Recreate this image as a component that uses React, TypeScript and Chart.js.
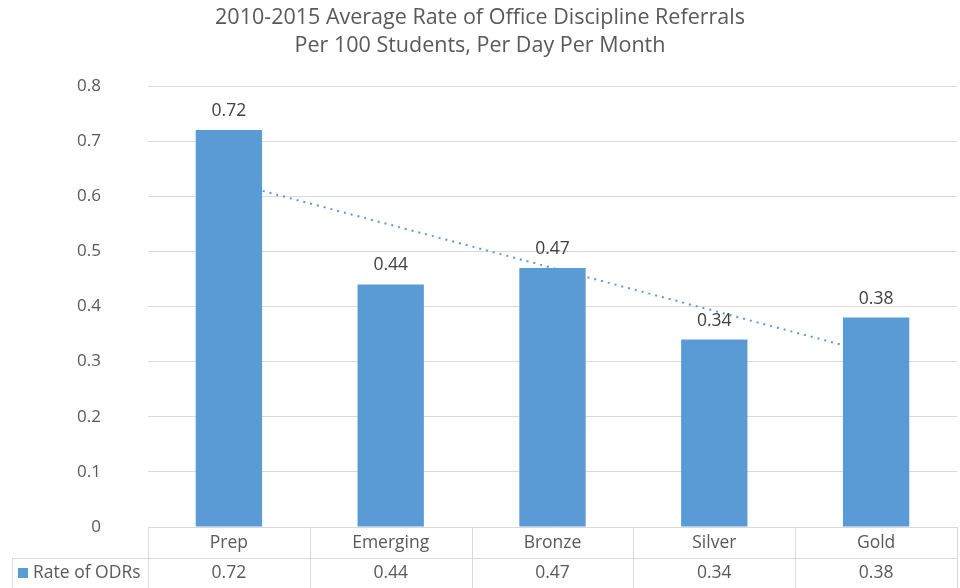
import React, { useEffect, useRef } from "react";
import { Chart, registerables } from "chart.js";

Chart.register(...registerables);

const categories = ["Prep", "Emerging", "Bronze", "Silver", "Gold"];
const rateValues = [0.72, 0.44, 0.47, 0.34, 0.38];
const trendValues = [0.626, 0.548, 0.47, 0.392, 0.314];
const seriesName = "Rate of ODRs";
const titleLines = [
  "2010-2015 Average Rate of Office Discipline Referrals",
  "Per 100 Students, Per Day Per Month",
];

const FONT = "'Open Sans', Lato, sans-serif";
const BAR = "#5B9BD5";
const GRID = "#D9D9D9";
const TEXT = "#595959";

const extrasPlugin = {
  id: "extras",
  afterDatasetsDraw(chart: any) {
    const ctx = chart.ctx;
    const meta = chart.getDatasetMeta(1);
    ctx.save();
    ctx.font = `17.5px ${FONT}`;
    ctx.fillStyle = "#404040";
    ctx.textAlign = "center";
    ctx.textBaseline = "middle";
    meta.data.forEach((bar: any, i: number) => {
      ctx.fillText(rateValues[i].toFixed(2), bar.x, bar.y - 19);
    });
    ctx.restore();
  },
  afterDraw(chart: any) {
    const ctx = chart.ctx;
    const area = chart.chartArea;
    const x = chart.scales.x;
    ctx.save();
    // title
    ctx.font = `21.5px ${FONT}`;
    ctx.fillStyle = TEXT;
    ctx.textAlign = "center";
    ctx.textBaseline = "middle";
    ctx.fillText(titleLines[0], 480, 18);
    ctx.fillText(titleLines[1], 480, 46);

    // data table
    const top = area.bottom;
    const row1 = top + 31;
    const row2 = chart.height + 2;
    const tableLeft = 12;
    const n = categories.length;
    const colW = (area.right - area.left) / n;
    ctx.strokeStyle = GRID;
    ctx.lineWidth = 1;
    ctx.beginPath();
    ctx.moveTo(area.left, top + 0.5);
    ctx.lineTo(area.right, top + 0.5);
    ctx.moveTo(tableLeft, row1 + 0.5);
    ctx.lineTo(area.right, row1 + 0.5);
    ctx.moveTo(tableLeft + 0.5, row1);
    ctx.lineTo(tableLeft + 0.5, row2);
    for (let i = 0; i <= n; i++) {
      const cx = Math.round(area.left + i * colW) + 0.5;
      ctx.moveTo(cx, top);
      ctx.lineTo(cx, row2);
    }
    ctx.stroke();

    ctx.font = `17.5px ${FONT}`;
    ctx.fillStyle = TEXT;
    ctx.textAlign = "center";
    ctx.textBaseline = "middle";
    categories.forEach((c, i) => {
      const cx = x.getPixelForValue(i);
      ctx.fillText(c, cx, top + 16);
      ctx.fillText(rateValues[i].toFixed(2), cx, row1 + 15);
    });
    ctx.fillStyle = BAR;
    ctx.fillRect(18, row1 + 10, 10, 10);
    ctx.fillStyle = TEXT;
    ctx.textAlign = "left";
    ctx.fillText(seriesName, 33, row1 + 15);
    ctx.restore();
  },
};

export default function App() {
  const ref = useRef<HTMLCanvasElement | null>(null);
  useEffect(() => {
    if (!ref.current) return;
    Chart.defaults.font.family = FONT;
    const chart = new Chart(ref.current, {
      type: "bar",
      data: {
        labels: categories,
        datasets: [
          {
            type: "line",
            label: "Trend",
            data: trendValues,
            borderColor: BAR,
            borderWidth: 2,
            borderDash: [2, 5],
            pointRadius: 0,
            fill: false,
            order: 2,
          } as any,
          {
            type: "bar",
            label: seriesName,
            data: rateValues,
            backgroundColor: BAR,
            barPercentage: 0.41,
            categoryPercentage: 1,
            order: 1,
          },
        ],
      },
      options: {
        animation: false,
        responsive: true,
        maintainAspectRatio: false,
        layout: { padding: { top: 86, bottom: 61, left: 0, right: 3 } },
        plugins: {
          legend: { display: false },
          title: { display: false },
          tooltip: { enabled: false },
        },
        scales: {
          x: {
            display: false,
            offset: true,
            grid: { display: false },
          },
          y: {
            min: 0,
            max: 0.8,
            border: { display: false },
            grid: {
              color: (c: any) => (c.tick && c.tick.value === 0 ? "rgba(0,0,0,0)" : GRID),
              lineWidth: 1,
              drawTicks: false,
            },
            ticks: {
              stepSize: 0.1,
              padding: 47,
              color: TEXT,
              font: { size: 17, family: FONT },
              callback: (v: any) => (Number(v) === 0 ? "0" : Number(v).toFixed(1)),
            },
            afterFit: (s: any) => {
              s.width = 148;
            },
          },
        },
      },
      plugins: [extrasPlugin],
    });
    return () => chart.destroy();
  }, []);
  return (
    <div style={{ position: "fixed", left: 0, top: 0, width: 960, height: 588, background: "#fff" }}>
      <canvas ref={ref} />
    </div>
  );
}
